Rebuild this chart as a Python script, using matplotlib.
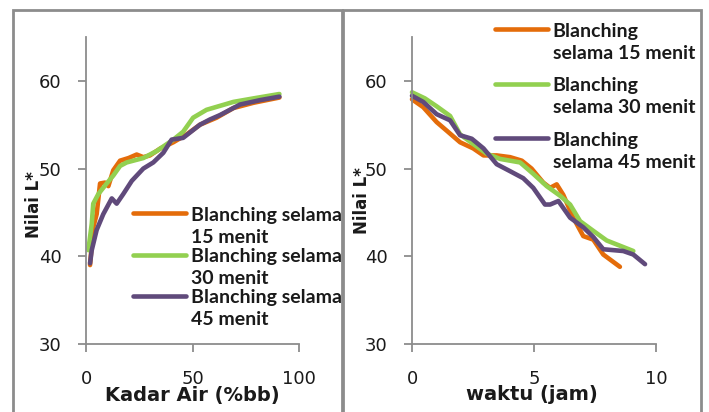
import numpy as np
import matplotlib
matplotlib.use("Agg")
import matplotlib.pyplot as plt
from matplotlib.patches import Rectangle
from matplotlib.legend_handler import HandlerLine2D
from matplotlib.transforms import Bbox, TransformedBbox

plt.rcParams['font.family'] = ['DejaVu Sans']

# L* versus moisture content (% wet basis)
ka_15 = [1.9, 3.4, 5.0, 6.6, 8.9, 10.5, 12.8, 16.0, 20.0, 23.8, 26.9, 30.0, 35.0, 41.0, 47.3, 53.5, 61.3, 69.2, 78.6, 90.8]
L_15 = [39.0, 43.3, 44.8, 48.3, 48.4, 48.0, 49.8, 50.9, 51.2, 51.6, 51.3, 51.5, 52.3, 53.0, 53.9, 55.0, 55.8, 56.9, 57.5, 58.1]
ka_30 = [1.1, 2.7, 3.4, 5.8, 9.7, 12.8, 16.0, 19.1, 26.9, 33.2, 41.0, 45.6, 50.3, 56.6, 69.2, 78.6, 90.8]
L_30 = [40.7, 43.7, 46.0, 47.1, 48.3, 49.2, 50.3, 50.7, 51.2, 52.0, 53.3, 54.2, 55.8, 56.7, 57.6, 58.0, 58.5]
ka_45 = [1.9, 2.7, 5.0, 8.1, 12.1, 14.4, 17.5, 21.5, 26.9, 31.6, 36.3, 40.2, 45.6, 53.5, 58.2, 62.9, 72.3, 81.7, 90.8]
L_45 = [39.2, 40.7, 43.0, 44.8, 46.6, 46.0, 47.1, 48.6, 50.0, 50.7, 51.8, 53.3, 53.5, 55.0, 55.6, 56.1, 57.3, 57.8, 58.2]

# L* versus drying time (hours)
t_15 = [0.0, 0.46, 1.01, 1.43, 1.97, 2.51, 2.93, 3.47, 4.02, 4.5, 4.9, 5.38, 5.66, 5.93, 6.2, 6.61, 7.02, 7.43, 7.84, 8.52]
Lt_15 = [57.9, 57.0, 55.3, 54.3, 53.0, 52.3, 51.5, 51.5, 51.3, 50.9, 50.0, 48.4, 47.8, 48.2, 47.0, 44.4, 42.3, 41.9, 40.2, 38.8]
t_30 = [0.0, 0.53, 1.01, 1.56, 1.97, 2.51, 3.06, 3.61, 4.43, 4.97, 5.52, 6.07, 6.48, 6.89, 7.43, 7.98, 9.07]
Lt_30 = [58.7, 58.0, 57.1, 56.0, 53.9, 52.8, 51.7, 51.1, 50.7, 49.4, 48.0, 46.9, 45.9, 44.0, 42.9, 41.8, 40.6]
t_45 = [0.0, 0.46, 1.01, 1.56, 1.97, 2.45, 2.93, 3.47, 4.02, 4.56, 4.97, 5.45, 5.66, 6.0, 6.48, 7.02, 7.43, 7.84, 8.66, 9.07, 9.55]
Lt_45 = [58.3, 57.6, 56.2, 55.5, 53.8, 53.4, 52.3, 50.5, 49.7, 48.9, 47.8, 45.9, 45.9, 46.3, 44.4, 43.3, 42.2, 40.8, 40.6, 40.2, 39.1]

labels_left = ["Blanching selama\n15 menit", "Blanching selama\n30 menit", "Blanching selama\n45 menit"]
labels_right = ["Blanching\nselama 15 menit", "Blanching\nselama 30 menit", "Blanching\nselama 45 menit"]
y_ticks = [30, 40, 50, 60]
x_ticks_left = [0, 50, 100]
x_ticks_right = [0, 5, 10]

colors = ["#E46C0A", "#92D050", "#604A7B"]
grey = "#8C8C8C"
text_c = "#1A1A1A"
legend_font = {"family": ["Lato", "DejaVu Sans"], "weight": "bold", "size": 14}

W, H = 709, 412
fig = plt.figure(figsize=(W / 100, H / 100), dpi=100)


def fx(px):
    return px / W


def fy(py):
    return 1 - py / H


class TopAlignedLine(HandlerLine2D):
    """Legend key drawn level with the first line of a two-line label."""

    def __init__(self, shift, **kw):
        super().__init__(**kw)
        self.shift = shift

    def create_artists(self, legend, orig_handle, xdescent, ydescent,
                       width, height, fontsize, trans):
        arts = super().create_artists(legend, orig_handle, xdescent, ydescent,
                                      width, height, fontsize, trans)
        for a in arts:
            a.set_ydata(np.asarray(a.get_ydata(), dtype=float) + self.shift * fontsize)
        return arts


# panel frames
for x0, x1 in [(13, 342), (343, 701)]:
    fig.add_artist(Rectangle((fx(x0), fy(420)), fx(x1) - fx(x0), fy(10) - fy(420),
                             transform=fig.transFigure, fill=False,
                             edgecolor=grey, lw=2.0, clip_on=False))


def style_axes(ax, xlim, xticks):
    ax.set_ylim(30, 65)
    ax.set_xlim(*xlim)
    ax.set_yticks(y_ticks)
    ax.set_xticks(xticks)
    for s in ["top", "right"]:
        ax.spines[s].set_visible(False)
    for s in ["left", "bottom"]:
        ax.spines[s].set_color(grey)
        ax.spines[s].set_linewidth(1.3)
    ax.tick_params(axis="both", direction="out", length=5.5, width=1.3, color=grey,
                   labelsize=13, labelcolor=text_c)
    ax.tick_params(axis="y", pad=12)
    ax.tick_params(axis="x", pad=13)
    ax.set_facecolor("none")


def add_legend(ax, handles, anchor, spacing, clip_right=None):
    leg = ax.legend(handles=handles, handler_map={h: TopAlignedLine(0.68) for h in handles},
                    loc="upper left", bbox_to_anchor=(fx(anchor[0]), fy(anchor[1])),
                    bbox_transform=fig.transFigure, frameon=False,
                    prop=legend_font, handlelength=2.7, handletextpad=0.26,
                    labelspacing=spacing, borderpad=0, borderaxespad=0)
    for t in leg.get_texts():
        t.set_color(text_c)
        t.set_linespacing(1.35)
        if clip_right is not None:
            t.set_clip_box(TransformedBbox(Bbox([[0, 0], [fx(clip_right), 1]]),
                                           fig.transFigure))
            t.set_clip_on(True)
    return leg


# left panel: L* against moisture content
ax1 = fig.add_axes([fx(86), fy(344), fx(299) - fx(86), fy(37) - fy(344)])
style_axes(ax1, (0, 100), x_ticks_left)
h1 = []
for x, y, c, lab in zip([ka_15, ka_30, ka_45], [L_15, L_30, L_45], colors, labels_left):
    ln, = ax1.plot(x, y, color=c, lw=3.3, solid_joinstyle="round", solid_capstyle="round",
                   label=lab, clip_on=False)
    h1.append(ln)
ax1.set_ylabel("Nilai L*", fontsize=12, fontweight="bold", color=text_c, va="center")
ax1.yaxis.set_label_coords((34 - 86) / 213, (344 - 205) / 307)
ax1.set_xlabel("Kadar Air (%bb)", fontsize=14, fontweight="bold", color=text_c, va="center")
ax1.xaxis.set_label_coords(0.5, (344 - 395) / 307)
add_legend(ax1, h1, (133, 207), 0.12)

# right panel: L* against drying time
ax2 = fig.add_axes([fx(412), fy(344), fx(656) - fx(412), fy(37) - fy(344)])
style_axes(ax2, (0, 10), x_ticks_right)
h2 = []
for x, y, c, lab in zip([t_15, t_30, t_45], [Lt_15, Lt_30, Lt_45], colors, labels_right):
    ln, = ax2.plot(x, y, color=c, lw=3.3, solid_joinstyle="round", solid_capstyle="round",
                   label=lab, clip_on=False)
    h2.append(ln)
ax2.set_ylabel("Nilai L*", fontsize=12, fontweight="bold", color=text_c, va="center")
ax2.yaxis.set_label_coords((362 - 412) / 244, (344 - 201) / 307)
ax2.set_xlabel("waktu (jam)", fontsize=14, fontweight="bold", color=text_c, va="center")
ax2.xaxis.set_label_coords((532 - 412) / 244, (344 - 395) / 307)
add_legend(ax2, h2, (495, 23), 0.8, clip_right=700)

fig.savefig("out.png", dpi=100, facecolor="white")
